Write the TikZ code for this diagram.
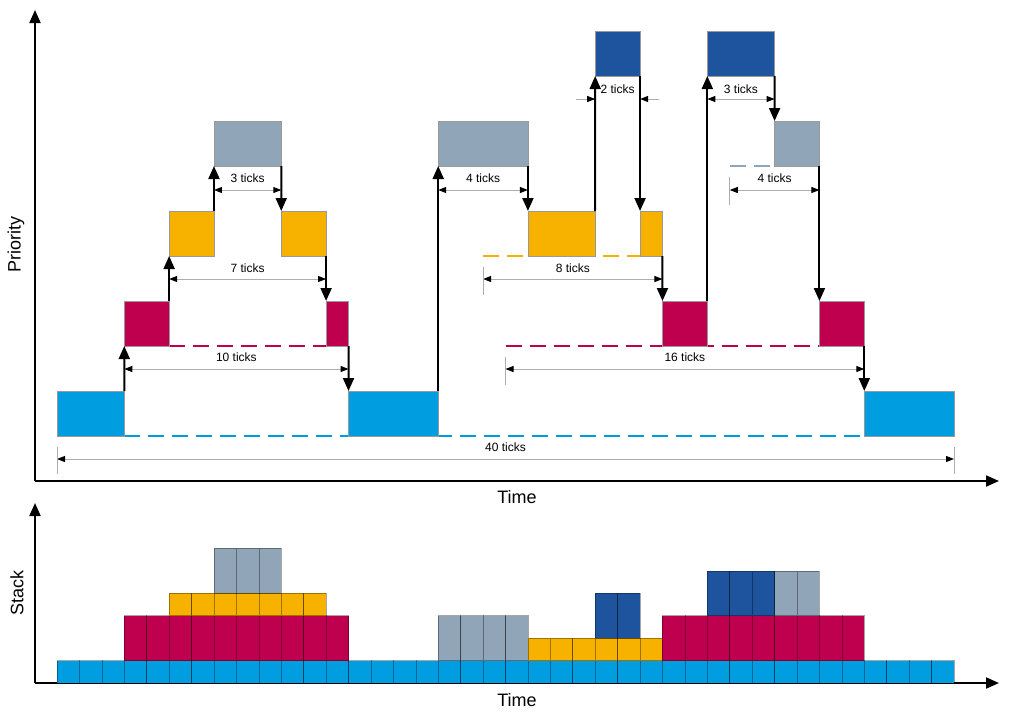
\documentclass[tikz,border=0pt]{standalone}
\usepackage{fontspec}
\setmainfont{Liberation Sans}
\usetikzlibrary{arrows.meta,backgrounds}
\definecolor{cBlue}{HTML}{009EE0}
\definecolor{cRed}{HTML}{BE004E}
\definecolor{cYel}{HTML}{F7B200}
\definecolor{cGrey}{HTML}{91A5B8}
\definecolor{cDark}{HTML}{1E549E}
\tikzset{
  task/.style={draw=black!40, line width=0.7pt, inner sep=0pt, outer sep=0pt, minimum height=45pt, anchor=south west},
  wspan/.style={minimum width=#1*22.425pt},
  swarrow/.style={line width=2pt, -{Triangle[length=13pt,width=11pt]}},
  axisline/.style={line width=2pt, -{Triangle[length=13pt,width=11pt]}},
  dimline/.style={draw=black!32, line width=1pt, {Triangle[length=8pt,width=6pt,color=black]}-{Triangle[length=8pt,width=6pt,color=black]}},
  dimtip/.style={draw=black!32, line width=1pt, -{Triangle[length=8pt,width=6pt,color=black]}},
  tickmark/.style={draw=black!32, line width=1pt},
  dimlab/.style={font=\fontsize{12}{14}\selectfont, inner sep=1pt},
  axlab/.style={font=\fontsize{18}{20}\selectfont, inner sep=1pt},
  dashline/.style={line width=1.8pt, dash pattern=on 16pt off 8pt},
  cell/.style={draw=black, draw opacity=0.35, line width=0.6pt},
}
\begin{document}
\begin{tikzpicture}[x=1pt,y=-1pt]
\useasboundingbox (0,0) rectangle (1009,713);
% axes
\coordinate (po) at (35,481);
\coordinate (py) at (35,10);
\coordinate (px) at (999,481);
\coordinate (so) at (35,683);
\coordinate (sy) at (35,503);
\coordinate (sx) at (999,683);
\draw[axisline] (po) -- (py);
\draw[axisline] (po) -- (px);
\draw[axisline] (so) -- (sy);
\draw[axisline] (so) -- (sx);
\node[axlab, rotate=90] (lprio) at (16,244) {Priority};
\node[axlab] (ltime1) at (517,497) {Time};
\node[axlab, rotate=90] (lstack) at (17,593) {Stack};
\node[axlab] (ltime2) at (517,700) {Time};

\begin{scope}[shift={(57pt,0pt)}, x=22.425pt]
% task boxes
\node[task, fill=cBlue, wspan=3] (b1) at (0,436) {};
\node[task, fill=cBlue, wspan=4] (b2) at (13,436) {};
\node[task, fill=cBlue, wspan=4] (b3) at (36,436) {};
\node[task, fill=cRed, wspan=2] (r1) at (3,346) {};
\node[task, fill=cRed, wspan=1] (r2) at (12,346) {};
\node[task, fill=cRed, wspan=2] (r3) at (27,346) {};
\node[task, fill=cRed, wspan=2] (r4) at (34,346) {};
\node[task, fill=cYel, wspan=2] (y1) at (5,256) {};
\node[task, fill=cYel, wspan=2] (y2) at (10,256) {};
\node[task, fill=cYel, wspan=3] (y3) at (21,256) {};
\node[task, fill=cYel, wspan=1] (y4) at (26,256) {};
\node[task, fill=cGrey, wspan=3] (g1) at (7,166) {};
\node[task, fill=cGrey, wspan=4] (g2) at (17,166) {};
\node[task, fill=cGrey, wspan=2] (g3) at (32,166) {};
\node[task, fill=cDark, wspan=2] (d1) at (24,76) {};
\node[task, fill=cDark, wspan=3] (d2) at (29,76) {};

% dashed lines behind
\coordinate (rd) at (20,346);
\coordinate (yd) at (19,256);
\coordinate (gd) at (30,166);
\begin{pgfonlayer}{background}
\draw[dashline, cBlue] (b1.south east) -- (b3.south west);
\draw[dashline, cRed] (r1.south east) -- (r2.south west);
\draw[dashline, cRed] (rd) -- (r4.south west);
\draw[dashline, cYel] (yd) -- (y4.south west);
\draw[dashline, cGrey] (gd) -- (g3.south west);
\end{pgfonlayer}

% dimension lines
\coordinate (a3s) at (7,190);  \coordinate (a3e) at (10,190);
\coordinate (a7s) at (5,279);  \coordinate (a7e) at (12,279);
\coordinate (a10s) at (3,369); \coordinate (a10e) at (13,369);
\coordinate (a40s) at (0,459); \coordinate (a40e) at (40,459);
\coordinate (a4s) at (17,190); \coordinate (a4e) at (21,190);
\coordinate (a8s) at (19,279); \coordinate (a8e) at (27,279);
\coordinate (a16s) at (20,369); \coordinate (a16e) at (36,369);
\coordinate (a2l) at (23.14,99); \coordinate (a2ls) at (24,99);
\coordinate (a2r) at (26.86,99); \coordinate (a2rs) at (26,99);
\coordinate (b3s) at (29,99); \coordinate (b3e) at (32,99);
\coordinate (b4s) at (30,190); \coordinate (b4e) at (34,190);
\draw[dimline] (a3s) -- (a3e);
\draw[dimline] (a7s) -- (a7e);
\draw[dimline] (a10s) -- (a10e);
\draw[dimline] (a40s) -- (a40e);
\draw[dimline] (a4s) -- (a4e);
\draw[dimline] (a8s) -- (a8e);
\draw[dimline] (a16s) -- (a16e);
\draw[dimtip] (a2l) -- (a2ls);
\draw[dimtip] (a2r) -- (a2rs);
\draw[dimline] (b3s) -- (b3e);
\draw[dimline] (b4s) -- (b4e);
% end ticks
\coordinate (t40a) at (0,447); \coordinate (t40b) at (0,474);
\coordinate (t40c) at (40,447); \coordinate (t40d) at (40,474);
\coordinate (t8a) at (19,267); \coordinate (t8b) at (19,295);
\coordinate (t16a) at (20,357); \coordinate (t16b) at (20,385);
\coordinate (t4a) at (30,177); \coordinate (t4b) at (30,205);
\draw[tickmark] (t40a) -- (t40b);
\draw[tickmark] (t40c) -- (t40d);
\draw[tickmark] (t8a) -- (t8b);
\draw[tickmark] (t16a) -- (t16b);
\draw[tickmark] (t4a) -- (t4b);
% labels
\node[dimlab] (l3) at (8.5,178) {3 ticks};
\node[dimlab] (l7) at (8.5,268) {7 ticks};
\node[dimlab] (l10) at (8,357) {10 ticks};
\node[dimlab] (l40) at (20,447) {40 ticks};
\node[dimlab] (l4) at (19,178) {4 ticks};
\node[dimlab] (l8) at (23,268) {8 ticks};
\node[dimlab] (l16) at (28,357) {16 ticks};
\node[dimlab] (l2) at (25,89) {2 ticks};
\node[dimlab] (l3b) at (30.5,89) {3 ticks};
\node[dimlab] (l4b) at (32,178) {4 ticks};

% switching arrows
\draw[swarrow] (b1.north east) -- (r1.south west);
\draw[swarrow] (r1.north east) -- (y1.south west);
\draw[swarrow] (y1.north east) -- (g1.south west);
\draw[swarrow] (g1.south east) -- (y2.north west);
\draw[swarrow] (y2.south east) -- (r2.north west);
\draw[swarrow] (r2.south east) -- (b2.north west);
\draw[swarrow] (b2.north east) -- (g2.south west);
\draw[swarrow] (g2.south east) -- (y3.north west);
\draw[swarrow] (y3.north east) -- (d1.south west);
\draw[swarrow] (d1.south east) -- (y4.north west);
\draw[swarrow] (y4.south east) -- (r3.north west);
\draw[swarrow] (r3.north east) -- (d2.south west);
\draw[swarrow] (d2.south east) -- (g3.north west);
\draw[swarrow] (g3.south east) -- (r4.north west);
\draw[swarrow] (r4.south east) -- (b3.north west);

% stack chart
\def\u{22.425}
\foreach \t in {0,...,39} \filldraw[cell, fill=cBlue] (\t,683) rectangle ++(1,-\u);
\foreach \t in {3,...,12} \filldraw[cell, fill=cRed] (\t,660.575) rectangle ++(1,-2*\u);
\foreach \t in {5,...,11} \filldraw[cell, fill=cYel] (\t,615.725) rectangle ++(1,-\u);
\foreach \t in {7,...,9} \filldraw[cell, fill=cGrey] (\t,593.3) rectangle ++(1,-2*\u);
\foreach \t in {17,...,20} \filldraw[cell, fill=cGrey] (\t,660.575) rectangle ++(1,-2*\u);
\foreach \t in {21,...,26} \filldraw[cell, fill=cYel] (\t,660.575) rectangle ++(1,-\u);
\foreach \t in {24,25} \filldraw[cell, fill=cDark] (\t,638.15) rectangle ++(1,-2*\u);
\foreach \t in {27,...,35} \filldraw[cell, fill=cRed] (\t,660.575) rectangle ++(1,-2*\u);
\foreach \t in {29,...,31} \filldraw[cell, fill=cDark] (\t,615.725) rectangle ++(1,-2*\u);
\foreach \t in {32,33} \filldraw[cell, fill=cGrey] (\t,615.725) rectangle ++(1,-2*\u);
\end{scope}
\end{tikzpicture}
\end{document}
